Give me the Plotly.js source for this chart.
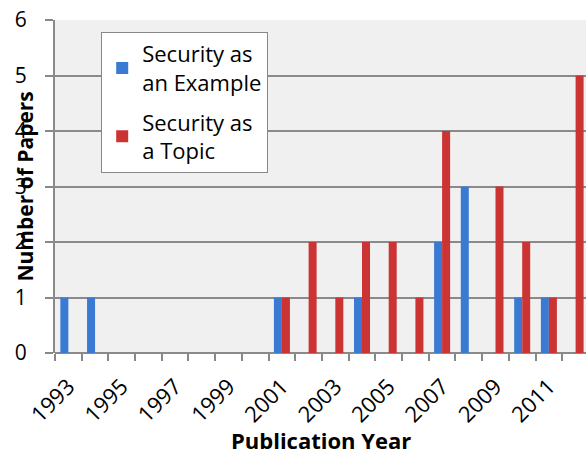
<!DOCTYPE html>
<html>
<head>
<meta charset="utf-8">
<script src="https://cdn.plot.ly/plotly-3.0.1.min.js"></script>
<style>html,body{margin:0;padding:0;background:#fff;}#chart{width:586px;height:454px;}</style>
</head>
<body>
<div id="chart"></div>
<script>
var years = [1993,1994,1995,1996,1997,1998,1999,2000,2001,2002,2003,2004,2005,2006,2007,2008,2009,2010,2011,2012];
var exampleCounts = [1,1,0,0,0,0,0,0,1,0,0,1,0,0,2,3,0,1,1,0];
var topicCounts   = [0,0,0,0,0,0,0,0,1,2,1,2,2,1,4,0,3,2,1,5];
var tickYears = [1993,1995,1997,1999,2001,2003,2005,2007,2009,2011];
var seriesNames = ["Security as<br>an Example", "Security as<br>a Topic"];
var xTitle = "Publication Year";
var yTitle = "Number of Papers";

var boundaries = [];
for (var i = 0; i <= years.length; i++) boundaries.push(years[0] - 0.5 + i);

var font = "'Open Sans', sans-serif";
var data = [
  {type:'bar', x:years, y:exampleCounts.map(function(v){return v||null;}), name:seriesNames[0], legendgroup:'ex',
   marker:{color:'#3b7ad3', line:{width:0}}},
  {type:'bar', x:years, y:topicCounts.map(function(v){return v||null;}), name:seriesNames[1], legendgroup:'tp',
   marker:{color:'#cc3434', line:{width:0}}}
];
var layout = {
  width:586, height:454,
  margin:{l:55, r:0, t:20, b:101},
  paper_bgcolor:'#ffffff', plot_bgcolor:'#f0f0f0',
  barmode:'group', bargap:0.4, bargroupgap:0,
  font:{family:font, color:'#000'},
  showlegend:true,
  legend:{x:0.087, y:0.964, xanchor:'left', yanchor:'top', bgcolor:'#ffffff',
          bordercolor:'#888888', borderwidth:1, font:{size:22, family:font},
          itemwidth:30, tracegroupgap:8},
  xaxis:{type:'linear', range:[1992.5, 2012.39], tickmode:'array', tickvals:tickYears,
         ticktext:tickYears.map(String), tickangle:-45, ticks:'outside', ticklen:11, tickcolor:'rgba(0,0,0,0)',
         showgrid:false, zeroline:false, showline:false,
         tickfont:{size:22, family:font},
         minor:{tickmode:'array', tickvals:boundaries, ticks:'outside', ticklen:7, tickcolor:'#888888', tickwidth:2, showgrid:false},
         automargin:false},
  yaxis:{range:[0,6], tickvals:[0,1,2,3,4,5,6], ticks:'outside', ticklen:8, tickcolor:'#888888', tickwidth:2,
         ticklabelstandoff:14,
         showgrid:true, gridcolor:'#8a8a8a', gridwidth:2, zeroline:true, zerolinecolor:'#8a8a8a', zerolinewidth:2,
         showline:true, linecolor:'#8a8a8a', linewidth:2,
         tickfont:{size:21, family:font},
         automargin:false},
  annotations:[
    {text:yTitle, xref:'paper', yref:'paper', x:0, y:0.5, xshift:-31, xanchor:'center', yanchor:'middle',
     textangle:-90, showarrow:false, font:{size:21, family:font, weight:'bold', color:'#000'}},
    {text:xTitle, xref:'paper', yref:'paper', x:0.5, y:0, yshift:-87, xanchor:'center', yanchor:'middle',
     showarrow:false, font:{size:22, family:font, weight:'bold', color:'#000'}}
  ]
};
Plotly.newPlot('chart', data, layout, {staticPlot:true, displayModeBar:false});
</script>
</body>
</html>
